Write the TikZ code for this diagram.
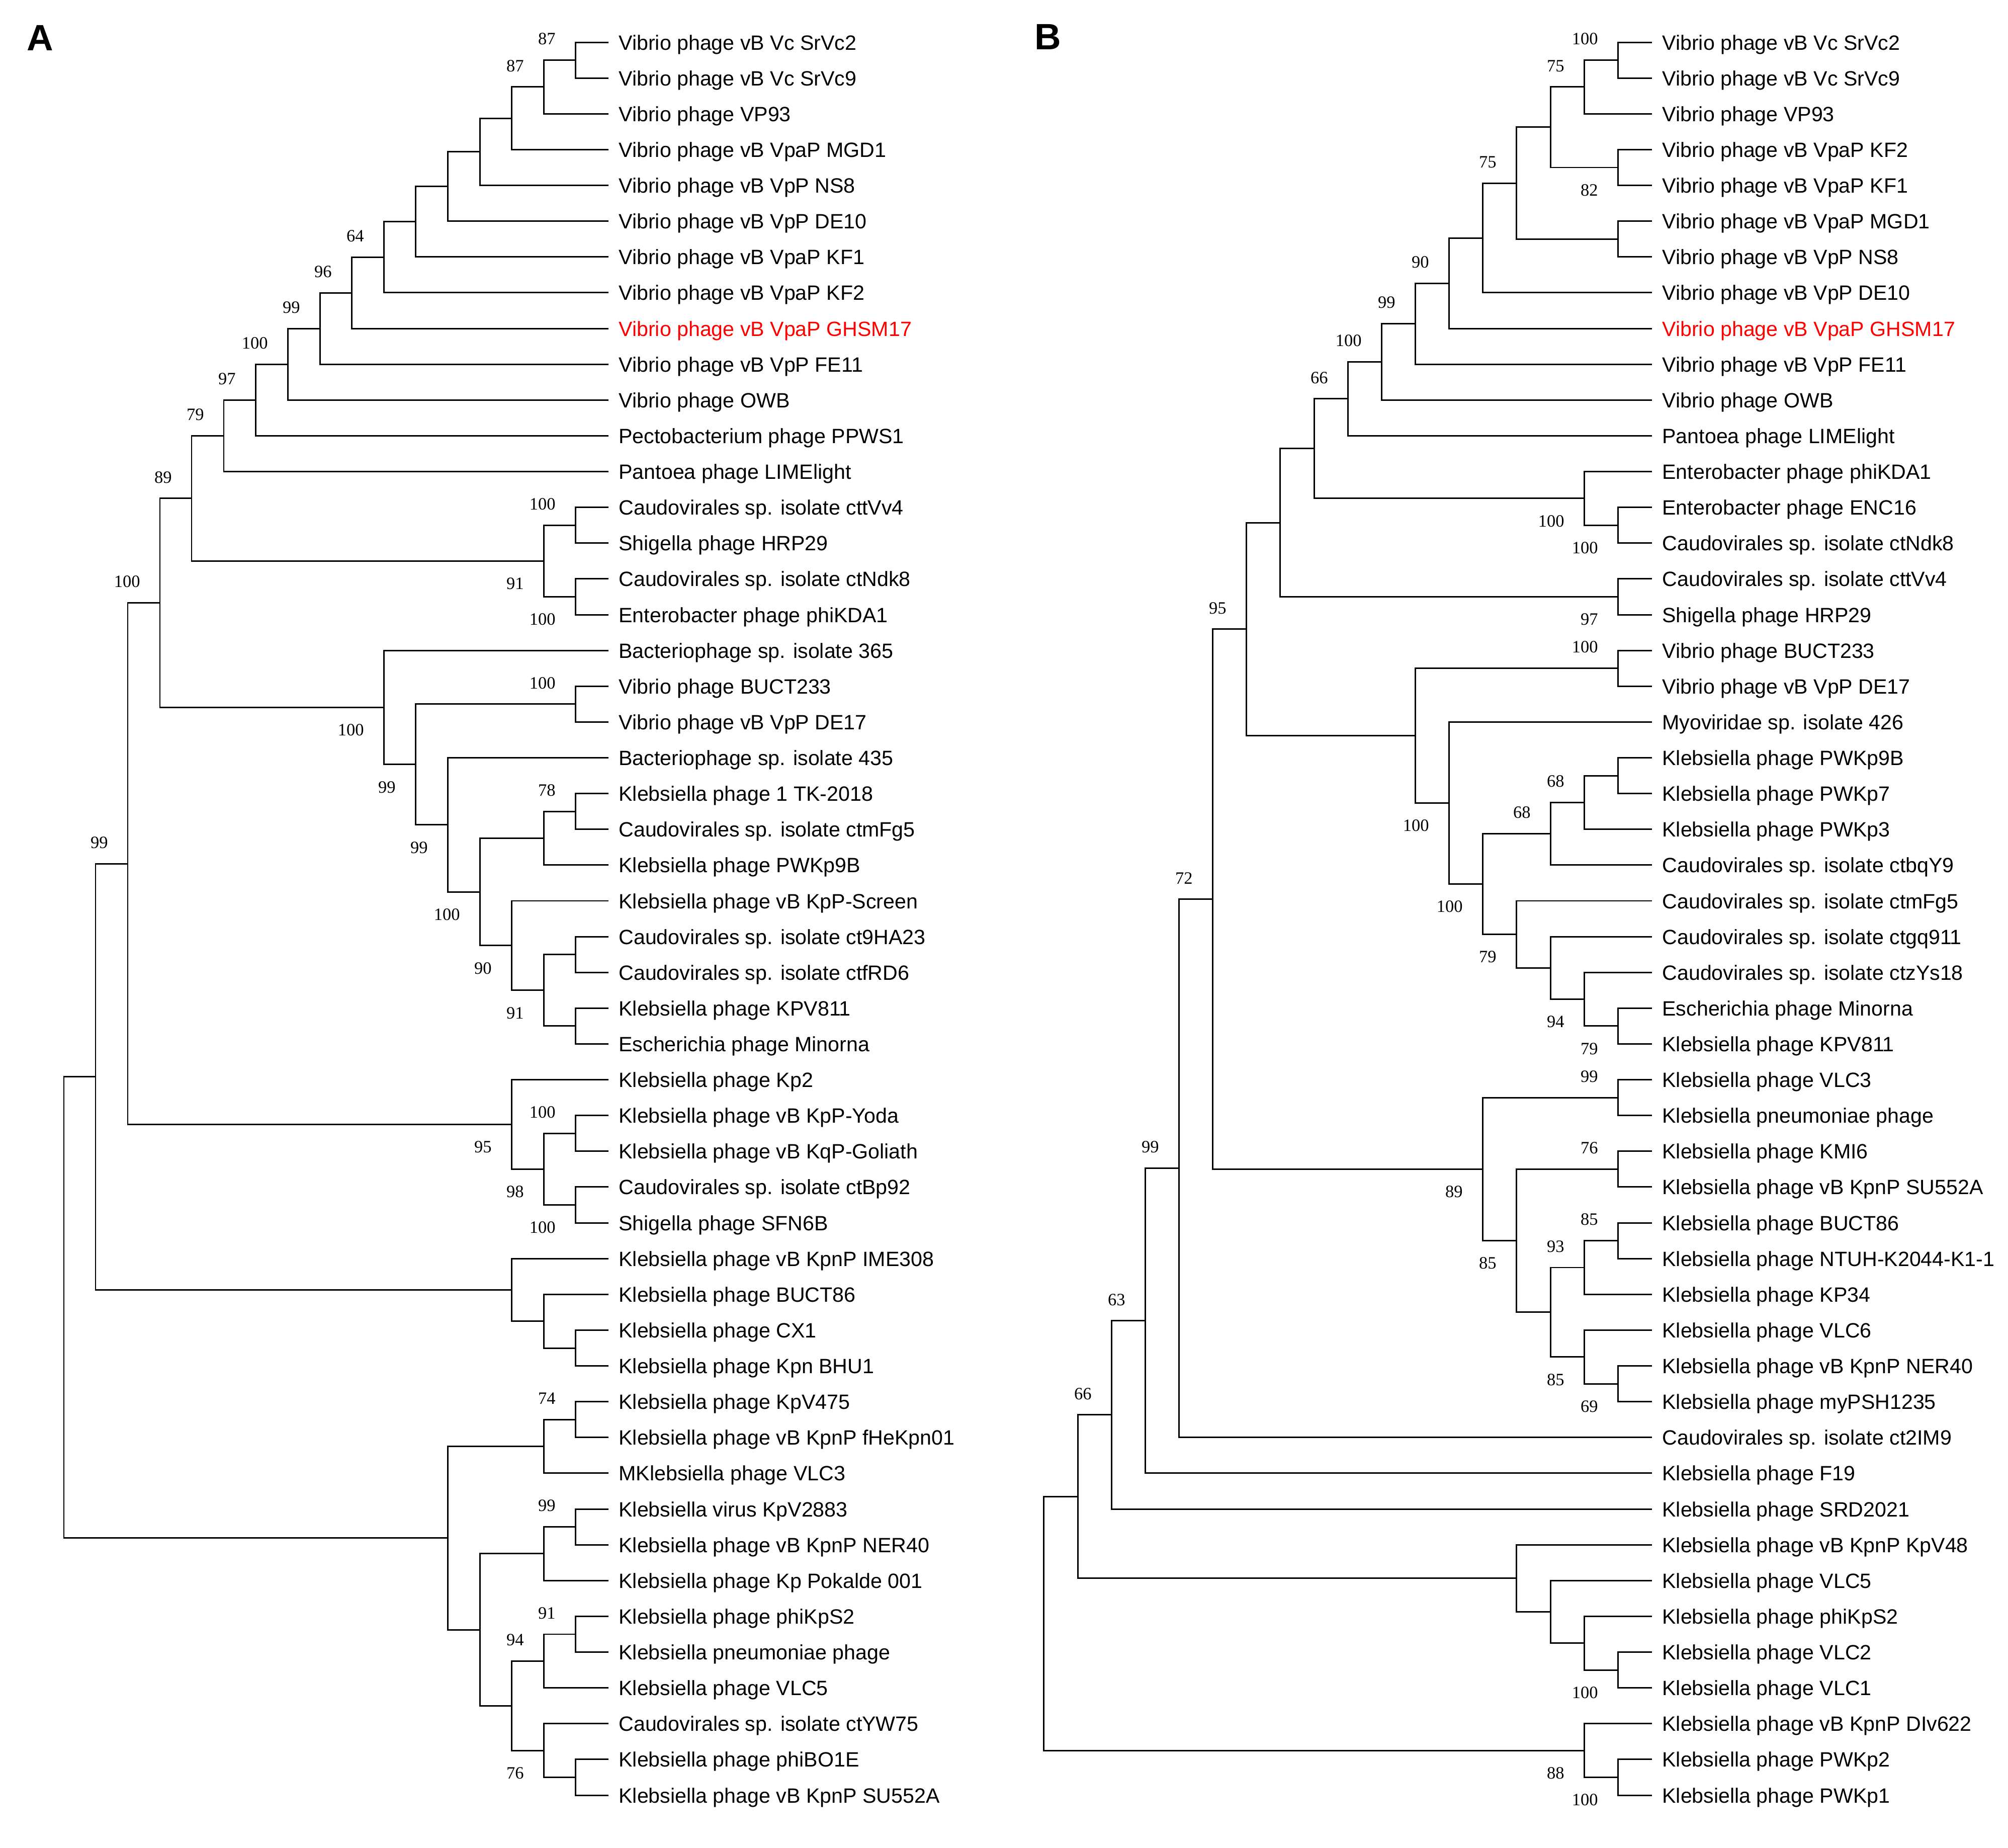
\documentclass[tikz,border=0pt]{standalone}
\usepackage{fontspec}
\setmainfont{Liberation Sans}
\newfontfamily\bsfont{Liberation Serif}
\definecolor{hlred}{RGB}{255,0,0}

\begin{document}
\begin{tikzpicture}[x=0.01cm, y=-0.7108cm, line width=0.85pt,
  leaf/.style={anchor=base west, inner sep=0pt, xshift=0.19cm, yshift=-0.15cm, font=\fontsize{11.7}{14}\selectfont},
  hit/.style={leaf, text=hlred},
  panel/.style={anchor=base west, inner sep=0pt, font=\bfseries\fontsize{20.7}{24}\selectfont},
  br/.style={to path={|- (\tikztotarget) \tikztonodes}},
  bsup/.style={pos=1, anchor=east, inner sep=0pt, xshift=-0.38cm, yshift=0.42cm, font=\bsfont\fontsize{9.8}{10}\selectfont},
  bsdn/.style={pos=1, anchor=east, inner sep=0pt, xshift=-0.38cm, yshift=-0.45cm, font=\bsfont\fontsize{9.8}{10}\selectfont}]
\useasboundingbox (0,-1.182) rectangle (3993,50.465);

\node[panel](pa) at (52,0.225){A};
\node[panel](pb) at (2056,0.197){B};

% tree A
\draw (1210,0)coordinate(a0) node[leaf](ta0){Vibrio phage vB Vc SrVc2};
\draw (1210,1)coordinate(a1) node[leaf](ta1){Vibrio phage vB Vc SrVc9};
\draw (1210,2)coordinate(a2) node[leaf](ta2){Vibrio phage VP93};
\draw (1210,3)coordinate(a3) node[leaf](ta3){Vibrio phage vB VpaP MGD1};
\draw (1210,4)coordinate(a4) node[leaf](ta4){Vibrio phage vB VpP NS8};
\draw (1210,5)coordinate(a5) node[leaf](ta5){Vibrio phage vB VpP DE10};
\draw (1210,6)coordinate(a6) node[leaf](ta6){Vibrio phage vB VpaP KF1};
\draw (1210,7)coordinate(a7) node[leaf](ta7){Vibrio phage vB VpaP KF2};
\draw (1210,8)coordinate(a8) node[hit](ta8){Vibrio phage vB VpaP GHSM17};
\draw (1210,9)coordinate(a9) node[leaf](ta9){Vibrio phage vB VpP FE11};
\draw (1210,10)coordinate(a10) node[leaf](ta10){Vibrio phage OWB};
\draw (1210,11)coordinate(a11) node[leaf](ta11){Pectobacterium phage PPWS1};
\draw (1210,12)coordinate(a12) node[leaf](ta12){Pantoea phage LIMElight};
\draw (1210,13)coordinate(a13) node[leaf](ta13){Caudovirales sp. isolate cttVv4};
\draw (1210,14)coordinate(a14) node[leaf](ta14){Shigella phage HRP29};
\draw (1210,15)coordinate(a15) node[leaf](ta15){Caudovirales sp. isolate ctNdk8};
\draw (1210,16)coordinate(a16) node[leaf](ta16){Enterobacter phage phiKDA1};
\draw (1210,17)coordinate(a17) node[leaf](ta17){Bacteriophage sp. isolate 365};
\draw (1210,18)coordinate(a18) node[leaf](ta18){Vibrio phage BUCT233};
\draw (1210,19)coordinate(a19) node[leaf](ta19){Vibrio phage vB VpP DE17};
\draw (1210,20)coordinate(a20) node[leaf](ta20){Bacteriophage sp. isolate 435};
\draw (1210,21)coordinate(a21) node[leaf](ta21){Klebsiella phage 1 TK-2018};
\draw (1210,22)coordinate(a22) node[leaf](ta22){Caudovirales sp. isolate ctmFg5};
\draw (1210,23)coordinate(a23) node[leaf](ta23){Klebsiella phage PWKp9B};
\draw (1210,24)coordinate(a24) node[leaf](ta24){Klebsiella phage vB KpP-Screen};
\draw (1210,25)coordinate(a25) node[leaf](ta25){Caudovirales sp. isolate ct9HA23};
\draw (1210,26)coordinate(a26) node[leaf](ta26){Caudovirales sp. isolate ctfRD6};
\draw (1210,27)coordinate(a27) node[leaf](ta27){Klebsiella phage KPV811};
\draw (1210,28)coordinate(a28) node[leaf](ta28){Escherichia phage Minorna};
\draw (1210,29)coordinate(a29) node[leaf](ta29){Klebsiella phage Kp2};
\draw (1210,30)coordinate(a30) node[leaf](ta30){Klebsiella phage vB KpP-Yoda};
\draw (1210,31)coordinate(a31) node[leaf](ta31){Klebsiella phage vB KqP-Goliath};
\draw (1210,32)coordinate(a32) node[leaf](ta32){Caudovirales sp. isolate ctBp92};
\draw (1210,33)coordinate(a33) node[leaf](ta33){Shigella phage SFN6B};
\draw (1210,34)coordinate(a34) node[leaf](ta34){Klebsiella phage vB KpnP IME308};
\draw (1210,35)coordinate(a35) node[leaf](ta35){Klebsiella phage BUCT86};
\draw (1210,36)coordinate(a36) node[leaf](ta36){Klebsiella phage CX1};
\draw (1210,37)coordinate(a37) node[leaf](ta37){Klebsiella phage Kpn BHU1};
\draw (1210,38)coordinate(a38) node[leaf](ta38){Klebsiella phage KpV475};
\draw (1210,39)coordinate(a39) node[leaf](ta39){Klebsiella phage vB KpnP fHeKpn01};
\draw (1210,40)coordinate(a40) node[leaf](ta40){MKlebsiella phage VLC3};
\draw (1210,41)coordinate(a41) node[leaf](ta41){Klebsiella virus KpV2883};
\draw (1210,42)coordinate(a42) node[leaf](ta42){Klebsiella phage vB KpnP NER40};
\draw (1210,43)coordinate(a43) node[leaf](ta43){Klebsiella phage Kp Pokalde 001};
\draw (1210,44)coordinate(a44) node[leaf](ta44){Klebsiella phage phiKpS2};
\draw (1210,45)coordinate(a45) node[leaf](ta45){Klebsiella pneumoniae phage};
\draw (1210,46)coordinate(a46) node[leaf](ta46){Klebsiella phage VLC5};
\draw (1210,47)coordinate(a47) node[leaf](ta47){Caudovirales sp. isolate ctYW75};
\draw (1210,48)coordinate(a48) node[leaf](ta48){Klebsiella phage phiBO1E};
\draw (1210,49)coordinate(a49) node[leaf](ta49){Klebsiella phage vB KpnP SU552A};

\coordinate (a50) at (1144,0.5);
\coordinate (a51) at (1081,1.25);
\coordinate (a52) at (1017,2.125);
\coordinate (a53) at (954,3.063);
\coordinate (a54) at (890,4.031);
\coordinate (a55) at (826,5.016);
\coordinate (a56) at (763,6.008);
\coordinate (a57) at (699,7.004);
\coordinate (a58) at (636,8.002);
\coordinate (a59) at (572,9.001);
\coordinate (a60) at (508,10.0);
\coordinate (a61) at (445,11.0);
\coordinate (a62) at (1144,13.5);
\coordinate (a63) at (1144,15.5);
\coordinate (a64) at (1081,14.5);
\coordinate (a65) at (381,12.75);
\coordinate (a66) at (1144,18.5);
\coordinate (a67) at (1144,21.5);
\coordinate (a68) at (1081,22.25);
\coordinate (a69) at (1144,25.5);
\coordinate (a70) at (1144,27.5);
\coordinate (a71) at (1081,26.5);
\coordinate (a72) at (1017,25.25);
\coordinate (a73) at (954,23.75);
\coordinate (a74) at (890,21.875);
\coordinate (a75) at (826,20.188);
\coordinate (a76) at (763,18.594);
\coordinate (a77) at (318,15.672);
\coordinate (a78) at (1144,30.5);
\coordinate (a79) at (1144,32.5);
\coordinate (a80) at (1081,31.5);
\coordinate (a81) at (1017,30.25);
\coordinate (a82) at (254,22.961);
\coordinate (a83) at (1144,36.5);
\coordinate (a84) at (1081,35.75);
\coordinate (a85) at (1017,34.875);
\coordinate (a86) at (190,28.918);
\coordinate (a87) at (1144,38.5);
\coordinate (a88) at (1081,39.25);
\coordinate (a89) at (1144,41.5);
\coordinate (a90) at (1081,42.25);
\coordinate (a91) at (1144,44.5);
\coordinate (a92) at (1081,45.25);
\coordinate (a93) at (1144,48.5);
\coordinate (a94) at (1081,47.75);
\coordinate (a95) at (1017,46.5);
\coordinate (a96) at (954,44.375);
\coordinate (a97) at (890,41.813);
\coordinate (a98) at (127,35.365);

\path[br] (a50) edge (a0) edge (a1);
\path[br] (a51) edge node[bsup]{87}(a50) edge (a2);
\path[br] (a52) edge node[bsup]{87}(a51) edge (a3);
\path[br] (a53) edge (a52) edge (a4);
\path[br] (a54) edge (a53) edge (a5);
\path[br] (a55) edge (a54) edge (a6);
\path[br] (a56) edge (a55) edge (a7);
\path[br] (a57) edge node[bsup]{64}(a56) edge (a8);
\path[br] (a58) edge node[bsup]{96}(a57) edge (a9);
\path[br] (a59) edge node[bsup]{99}(a58) edge (a10);
\path[br] (a60) edge node[bsup]{100}(a59) edge (a11);
\path[br] (a61) edge node[bsup]{97}(a60) edge (a12);
\path[br] (a62) edge (a13) edge (a14);
\path[br] (a63) edge (a15) edge (a16);
\path[br] (a64) edge node[bsup]{100}(a62) edge node[bsdn]{100}(a63);
\path[br] (a65) edge node[bsup]{79}(a61) edge node[bsdn]{91}(a64);
\path[br] (a66) edge (a18) edge (a19);
\path[br] (a67) edge (a21) edge (a22);
\path[br] (a68) edge node[bsup]{78}(a67) edge (a23);
\path[br] (a69) edge (a25) edge (a26);
\path[br] (a70) edge (a27) edge (a28);
\path[br] (a71) edge (a69) edge (a70);
\path[br] (a72) edge (a24) edge node[bsdn]{91}(a71);
\path[br] (a73) edge (a68) edge node[bsdn]{90}(a72);
\path[br] (a74) edge (a20) edge node[bsdn]{100}(a73);
\path[br] (a75) edge node[bsup]{100}(a66) edge node[bsdn]{99}(a74);
\path[br] (a76) edge (a17) edge node[bsdn]{99}(a75);
\path[br] (a77) edge node[bsup]{89}(a65) edge node[bsdn]{100}(a76);
\path[br] (a78) edge (a30) edge (a31);
\path[br] (a79) edge (a32) edge (a33);
\path[br] (a80) edge node[bsup]{100}(a78) edge node[bsdn]{100}(a79);
\path[br] (a81) edge (a29) edge node[bsdn]{98}(a80);
\path[br] (a82) edge node[bsup]{100}(a77) edge node[bsdn]{95}(a81);
\path[br] (a83) edge (a36) edge (a37);
\path[br] (a84) edge (a35) edge (a83);
\path[br] (a85) edge (a34) edge (a84);
\path[br] (a86) edge node[bsup]{99}(a82) edge (a85);
\path[br] (a87) edge (a38) edge (a39);
\path[br] (a88) edge node[bsup]{74}(a87) edge (a40);
\path[br] (a89) edge (a41) edge (a42);
\path[br] (a90) edge node[bsup]{99}(a89) edge (a43);
\path[br] (a91) edge (a44) edge (a45);
\path[br] (a92) edge node[bsup]{91}(a91) edge (a46);
\path[br] (a93) edge (a48) edge (a49);
\path[br] (a94) edge (a47) edge (a93);
\path[br] (a95) edge node[bsup]{94}(a92) edge node[bsdn]{76}(a94);
\path[br] (a96) edge (a90) edge (a95);
\path[br] (a97) edge (a88) edge (a96);
\path[br] (a98) edge (a86) edge (a97);

% tree B
\draw (3285,0)coordinate(b0) node[leaf](tb0){Vibrio phage vB Vc SrVc2};
\draw (3285,1)coordinate(b1) node[leaf](tb1){Vibrio phage vB Vc SrVc9};
\draw (3285,2)coordinate(b2) node[leaf](tb2){Vibrio phage VP93};
\draw (3285,3)coordinate(b3) node[leaf](tb3){Vibrio phage vB VpaP KF2};
\draw (3285,4)coordinate(b4) node[leaf](tb4){Vibrio phage vB VpaP KF1};
\draw (3285,5)coordinate(b5) node[leaf](tb5){Vibrio phage vB VpaP MGD1};
\draw (3285,6)coordinate(b6) node[leaf](tb6){Vibrio phage vB VpP NS8};
\draw (3285,7)coordinate(b7) node[leaf](tb7){Vibrio phage vB VpP DE10};
\draw (3285,8)coordinate(b8) node[hit](tb8){Vibrio phage vB VpaP GHSM17};
\draw (3285,9)coordinate(b9) node[leaf](tb9){Vibrio phage vB VpP FE11};
\draw (3285,10)coordinate(b10) node[leaf](tb10){Vibrio phage OWB};
\draw (3285,11)coordinate(b11) node[leaf](tb11){Pantoea phage LIMElight};
\draw (3285,12)coordinate(b12) node[leaf](tb12){Enterobacter phage phiKDA1};
\draw (3285,13)coordinate(b13) node[leaf](tb13){Enterobacter phage ENC16};
\draw (3285,14)coordinate(b14) node[leaf](tb14){Caudovirales sp. isolate ctNdk8};
\draw (3285,15)coordinate(b15) node[leaf](tb15){Caudovirales sp. isolate cttVv4};
\draw (3285,16)coordinate(b16) node[leaf](tb16){Shigella phage HRP29};
\draw (3285,17)coordinate(b17) node[leaf](tb17){Vibrio phage BUCT233};
\draw (3285,18)coordinate(b18) node[leaf](tb18){Vibrio phage vB VpP DE17};
\draw (3285,19)coordinate(b19) node[leaf](tb19){Myoviridae sp. isolate 426};
\draw (3285,20)coordinate(b20) node[leaf](tb20){Klebsiella phage PWKp9B};
\draw (3285,21)coordinate(b21) node[leaf](tb21){Klebsiella phage PWKp7};
\draw (3285,22)coordinate(b22) node[leaf](tb22){Klebsiella phage PWKp3};
\draw (3285,23)coordinate(b23) node[leaf](tb23){Caudovirales sp. isolate ctbqY9};
\draw (3285,24)coordinate(b24) node[leaf](tb24){Caudovirales sp. isolate ctmFg5};
\draw (3285,25)coordinate(b25) node[leaf](tb25){Caudovirales sp. isolate ctgq911};
\draw (3285,26)coordinate(b26) node[leaf](tb26){Caudovirales sp. isolate ctzYs18};
\draw (3285,27)coordinate(b27) node[leaf](tb27){Escherichia phage Minorna};
\draw (3285,28)coordinate(b28) node[leaf](tb28){Klebsiella phage KPV811};
\draw (3285,29)coordinate(b29) node[leaf](tb29){Klebsiella phage VLC3};
\draw (3285,30)coordinate(b30) node[leaf](tb30){Klebsiella pneumoniae phage};
\draw (3285,31)coordinate(b31) node[leaf](tb31){Klebsiella phage KMI6};
\draw (3285,32)coordinate(b32) node[leaf](tb32){Klebsiella phage vB KpnP SU552A};
\draw (3285,33)coordinate(b33) node[leaf](tb33){Klebsiella phage BUCT86};
\draw (3285,34)coordinate(b34) node[leaf](tb34){Klebsiella phage NTUH-K2044-K1-1};
\draw (3285,35)coordinate(b35) node[leaf](tb35){Klebsiella phage KP34};
\draw (3285,36)coordinate(b36) node[leaf](tb36){Klebsiella phage VLC6};
\draw (3285,37)coordinate(b37) node[leaf](tb37){Klebsiella phage vB KpnP NER40};
\draw (3285,38)coordinate(b38) node[leaf](tb38){Klebsiella phage myPSH1235};
\draw (3285,39)coordinate(b39) node[leaf](tb39){Caudovirales sp. isolate ct2IM9};
\draw (3285,40)coordinate(b40) node[leaf](tb40){Klebsiella phage F19};
\draw (3285,41)coordinate(b41) node[leaf](tb41){Klebsiella phage SRD2021};
\draw (3285,42)coordinate(b42) node[leaf](tb42){Klebsiella phage vB KpnP KpV48};
\draw (3285,43)coordinate(b43) node[leaf](tb43){Klebsiella phage VLC5};
\draw (3285,44)coordinate(b44) node[leaf](tb44){Klebsiella phage phiKpS2};
\draw (3285,45)coordinate(b45) node[leaf](tb45){Klebsiella phage VLC2};
\draw (3285,46)coordinate(b46) node[leaf](tb46){Klebsiella phage VLC1};
\draw (3285,47)coordinate(b47) node[leaf](tb47){Klebsiella phage vB KpnP DIv622};
\draw (3285,48)coordinate(b48) node[leaf](tb48){Klebsiella phage PWKp2};
\draw (3285,49)coordinate(b49) node[leaf](tb49){Klebsiella phage PWKp1};

\coordinate (b50) at (3217,0.5);
\coordinate (b51) at (3150,1.25);
\coordinate (b52) at (3217,3.5);
\coordinate (b53) at (3083,2.375);
\coordinate (b54) at (3217,5.5);
\coordinate (b55) at (3015,3.938);
\coordinate (b56) at (2948,5.469);
\coordinate (b57) at (2881,6.734);
\coordinate (b58) at (2814,7.867);
\coordinate (b59) at (2747,8.934);
\coordinate (b60) at (2680,9.967);
\coordinate (b61) at (3217,13.5);
\coordinate (b62) at (3150,12.75);
\coordinate (b63) at (2613,11.358);
\coordinate (b64) at (3217,15.5);
\coordinate (b65) at (2545,13.429);
\coordinate (b66) at (3217,17.5);
\coordinate (b67) at (3217,20.5);
\coordinate (b68) at (3150,21.25);
\coordinate (b69) at (3083,22.125);
\coordinate (b70) at (3217,27.5);
\coordinate (b71) at (3150,26.75);
\coordinate (b72) at (3083,25.875);
\coordinate (b73) at (3015,24.938);
\coordinate (b74) at (2948,23.531);
\coordinate (b75) at (2881,21.266);
\coordinate (b76) at (2814,19.383);
\coordinate (b77) at (2478,16.406);
\coordinate (b78) at (3217,29.5);
\coordinate (b79) at (3217,31.5);
\coordinate (b80) at (3217,33.5);
\coordinate (b81) at (3150,34.25);
\coordinate (b82) at (3217,37.5);
\coordinate (b83) at (3150,36.75);
\coordinate (b84) at (3083,35.5);
\coordinate (b85) at (3015,33.5);
\coordinate (b86) at (2948,31.5);
\coordinate (b87) at (2411,23.953);
\coordinate (b88) at (2344,31.477);
\coordinate (b89) at (2277,35.738);
\coordinate (b90) at (2210,38.369);
\coordinate (b91) at (3217,45.5);
\coordinate (b92) at (3150,44.75);
\coordinate (b93) at (3083,43.875);
\coordinate (b94) at (3015,42.938);
\coordinate (b95) at (2143,40.653);
\coordinate (b96) at (3217,48.5);
\coordinate (b97) at (3150,47.75);
\coordinate (b98) at (2075,44.2);

\path[br] (b50) edge (b0) edge (b1);
\path[br] (b51) edge node[bsup]{100}(b50) edge (b2);
\path[br] (b52) edge (b3) edge (b4);
\path[br] (b53) edge node[bsup]{75}(b51) edge node[bsdn]{82}(b52);
\path[br] (b54) edge (b5) edge (b6);
\path[br] (b55) edge (b53) edge (b54);
\path[br] (b56) edge node[bsup]{75}(b55) edge (b7);
\path[br] (b57) edge (b56) edge (b8);
\path[br] (b58) edge node[bsup]{90}(b57) edge (b9);
\path[br] (b59) edge node[bsup]{99}(b58) edge (b10);
\path[br] (b60) edge node[bsup]{100}(b59) edge (b11);
\path[br] (b61) edge (b13) edge (b14);
\path[br] (b62) edge (b12) edge node[bsdn]{100}(b61);
\path[br] (b63) edge node[bsup]{66}(b60) edge node[bsdn]{100}(b62);
\path[br] (b64) edge (b15) edge (b16);
\path[br] (b65) edge (b63) edge node[bsdn]{97}(b64);
\path[br] (b66) edge (b17) edge (b18);
\path[br] (b67) edge (b20) edge (b21);
\path[br] (b68) edge (b67) edge (b22);
\path[br] (b69) edge node[bsup]{68}(b68) edge (b23);
\path[br] (b70) edge (b27) edge (b28);
\path[br] (b71) edge (b26) edge node[bsdn]{79}(b70);
\path[br] (b72) edge (b25) edge node[bsdn]{94}(b71);
\path[br] (b73) edge (b24) edge (b72);
\path[br] (b74) edge node[bsup]{68}(b69) edge node[bsdn]{79}(b73);
\path[br] (b75) edge (b19) edge node[bsdn]{100}(b74);
\path[br] (b76) edge node[bsup]{100}(b66) edge node[bsdn]{100}(b75);
\path[br] (b77) edge (b65) edge (b76);
\path[br] (b78) edge (b29) edge (b30);
\path[br] (b79) edge (b31) edge (b32);
\path[br] (b80) edge (b33) edge (b34);
\path[br] (b81) edge node[bsup]{85}(b80) edge (b35);
\path[br] (b82) edge (b37) edge (b38);
\path[br] (b83) edge (b36) edge node[bsdn]{69}(b82);
\path[br] (b84) edge node[bsup]{93}(b81) edge node[bsdn]{85}(b83);
\path[br] (b85) edge node[bsup]{76}(b79) edge (b84);
\path[br] (b86) edge node[bsup]{99}(b78) edge node[bsdn]{85}(b85);
\path[br] (b87) edge node[bsup]{95}(b77) edge node[bsdn]{89}(b86);
\path[br] (b88) edge node[bsup]{72}(b87) edge (b39);
\path[br] (b89) edge node[bsup]{99}(b88) edge (b40);
\path[br] (b90) edge node[bsup]{63}(b89) edge (b41);
\path[br] (b91) edge (b45) edge (b46);
\path[br] (b92) edge (b44) edge node[bsdn]{100}(b91);
\path[br] (b93) edge (b43) edge (b92);
\path[br] (b94) edge (b42) edge (b93);
\path[br] (b95) edge node[bsup]{66}(b90) edge (b94);
\path[br] (b96) edge (b48) edge (b49);
\path[br] (b97) edge (b47) edge node[bsdn]{100}(b96);
\path[br] (b98) edge (b95) edge node[bsdn]{88}(b97);
\end{tikzpicture}
\end{document}
